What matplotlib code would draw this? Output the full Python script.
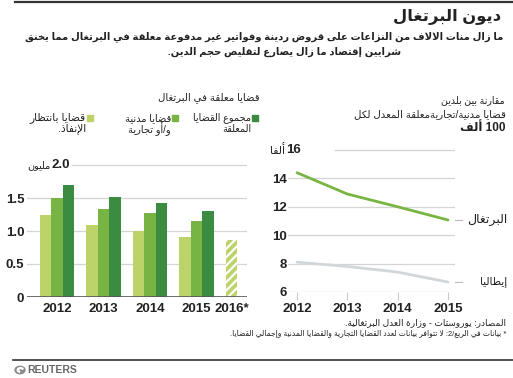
import re
import matplotlib

matplotlib.use("Agg")
import matplotlib.pyplot as plt
from matplotlib.patches import Rectangle, Circle, Wedge

# --- minimal Arabic shaping + RTL ordering (no arabic_reshaper available) ---
RIGHT = {"آ": 0xFE81, "أ": 0xFE83, "ؤ": 0xFE85, "إ": 0xFE87, "ا": 0xFE8D, "ة": 0xFE93,
         "د": 0xFEA9, "ذ": 0xFEAB, "ر": 0xFEAD, "ز": 0xFEAF, "و": 0xFEED, "ى": 0xFEEF}
DUAL = {"ئ": 0xFE89, "ب": 0xFE8F, "ت": 0xFE95, "ث": 0xFE99, "ج": 0xFE9D, "ح": 0xFEA1,
        "خ": 0xFEA5, "س": 0xFEB1, "ش": 0xFEB5, "ص": 0xFEB9, "ض": 0xFEBD, "ط": 0xFEC1,
        "ظ": 0xFEC5, "ع": 0xFEC9, "غ": 0xFECD, "ف": 0xFED1, "ق": 0xFED5, "ك": 0xFED9,
        "ل": 0xFEDD, "م": 0xFEE1, "ن": 0xFEE5, "ه": 0xFEE9, "ي": 0xFEF1}
LAM_ALEF = {"آ": 0xFEF5, "أ": 0xFEF7, "إ": 0xFEF9, "ا": 0xFEFB}


def ar(s):
    res = []
    i = 0
    n = len(s)
    while i < n:
        c = s[i]
        prev = s[i - 1] if i > 0 else ""
        pj = prev in DUAL
        if c == "ل" and i + 1 < n and s[i + 1] in LAM_ALEF:
            res.append(chr(LAM_ALEF[s[i + 1]] + (1 if pj else 0)))
            i += 2
            continue
        nxt = s[i + 1] if i + 1 < n else ""
        nj = nxt in DUAL or nxt in RIGHT
        if c in DUAL:
            f = 3 if (pj and nj) else 1 if pj else 2 if nj else 0
            res.append(chr(DUAL[c] + f))
        elif c in RIGHT:
            res.append(chr(RIGHT[c] + (1 if pj else 0)))
        else:
            res.append(c)
        i += 1
    vis = "".join(res)[::-1]
    return re.sub(r"[0-9]+(?:\.[0-9]+)?", lambda m: m.group()[::-1], vis)


plt.rcParams["font.family"] = ["Liberation Sans", "DejaVu Sans"]
plt.rcParams["hatch.linewidth"] = 1.6

# --- data ---
bar_years = ["2012", "2013", "2014", "2015", "2016*"]
enforcement = [1.24, 1.09, 1.00, 0.91, 0.86]
civil_commercial = [1.50, 1.34, 1.27, 1.15]
total_pending = [1.70, 1.52, 1.43, 1.30]

line_years = [2012, 2013, 2014, 2015]
portugal = [14.4, 12.9, 12.0, 11.07]
italy = [8.1, 7.8, 7.4, 6.7]

LIGHT = "#bcd36a"
MID = "#78b443"
DARK = "#3b8c41"
GRID = "#d4d4d4"
TXT = "#222222"

W, H = 513, 378
fig = plt.figure(figsize=(W / 100, H / 100), dpi=100)
renderer = fig.canvas.get_renderer()


def ftxt(x, y, s, size, weight="normal", ha="right", color=TXT):
    return fig.text(x / W, 1 - y / H, s, fontsize=size, fontweight=weight, ha=ha, va="center", color=color)


def fit(t, width):
    # scale the font so the text spans the width measured on the reference
    w = t.get_window_extent(renderer).width
    t.set_fontsize(t.get_fontsize() * width / w)
    return t.get_fontsize()


def faxes(x0, x1, ytop, ybot):
    return fig.add_axes([x0 / W, 1 - ybot / H, (x1 - x0) / W, (ybot - ytop) / H])


# top rule
fig.add_artist(plt.Line2D([15 / W, 1], [1 - 1.5 / H, 1 - 1.5 / H], color="#333333", lw=1.6))

fit(ftxt(501, 17, ar("ديون البرتغال"), 15, "bold"), 108)
sz = fit(ftxt(503, 37, ar("ما زال منات الالاف من النزاعات على قروض ردينة وفواتير غير مدفوعة معلقة في البرتغال مما يخنق"), 8, "bold"), 476)
ftxt(401, 52, ar("شرايين إقتصاد ما زال يصارع لتقليص حجم الدين."), sz, "bold")

# --- bar panel ---
fit(ftxt(260, 98, ar("قضايا معلقة في البرتغال"), 8), 102)
legend = [(255, DARK, "مجموع القضايا", "المعلقة", 58),
          (175, MID, "قضايا مدنية", "و/أو تجارية", 46),
          (90, LIGHT, "قضايا بانتظار", "الإنفاذ.", 56)]
for sx, col, l1, l2, wd in legend:
    fig.add_artist(Rectangle(((sx - 3) / W, 1 - 121 / H), 6 / W, 6 / H, color=col, transform=fig.transFigure))
    s1 = fit(ftxt(sx - 4, 118, ar(l1), 7.5), wd)
    ftxt(sx - 4, 129, ar(l2), s1)

ax = faxes(27, 247, 158.4, 297)
bw = 0.247
xs = list(range(len(bar_years)))
ax.bar([x - bw for x in xs[:4]], enforcement[:4], width=bw, color=LIGHT, zorder=2)
ax.bar(xs[:4], civil_commercial, width=bw, color=MID, zorder=2)
ax.bar([x + bw for x in xs[:4]], total_pending, width=bw, color=DARK, zorder=2)
ax.bar([xs[4] - bw], [enforcement[4]], width=bw, color=LIGHT, hatch="////", edgecolor="white", lw=0, zorder=2)
ax.set_xlim(-0.645, 4.086)
ax.set_ylim(0, 2.1)
for v in [0.5, 1.0, 1.5]:
    ax.axhline(v, color=GRID, lw=0.9, zorder=1)
ax.axhline(2.0, xmin=0.205, color=GRID, lw=0.9, zorder=1)
ax.axhline(0, color="#555555", lw=1.2, zorder=3)
ax.set_yticks([0, 0.5, 1.0, 1.5])
ax.set_yticklabels(["0", "0.5", "1.0", "1.5"])
ax.set_xticks([0, 1, 2, 3, 4 - bw])
ax.set_xticklabels(bar_years)
ax.tick_params(length=0, labelsize=9.5, colors=TXT, pad=4)
ax.tick_params(axis="y", pad=2)
for lab in ax.get_xticklabels() + ax.get_yticklabels():
    lab.set_fontweight("bold")
for s in ax.spines.values():
    s.set_visible(False)
ax.text(0.28, 2.0, "2.0", fontsize=9.5, fontweight="bold", ha="right", va="center", color=TXT)
fit(ax.text(-0.13, 2.0, ar("مليون"), fontsize=7.5, ha="right", va="center", color=TXT), 23)

# --- line panel ---
s1 = fit(ftxt(505, 100, ar("مقارنة بين بلدين"), 8), 64)
fit(ftxt(506, 114, ar("قضايا مدنية/تجاريةمعلقة المعدل لكل"), s1), 151)
ftxt(506, 128, ar("100 ألف"), 8.5, "bold")

lx = faxes(288, 455, 144.3, 292)
lx.plot(line_years, portugal, color="#79b543", lw=2, solid_capstyle="round", zorder=3)
lx.plot(line_years, italy, color="#d3d6d8", lw=2, solid_capstyle="round", zorder=3)
lx.set_xlim(2011.821, 2015.139)
lx.set_ylim(6, 16.4)
for v in [6, 8, 10, 12, 14]:
    lx.axhline(v, color=GRID, lw=0.9, zorder=1)
lx.axhline(16, xmin=0.281, color=GRID, lw=0.9, zorder=1)
lx.set_yticks([6, 8, 10, 12, 14])
lx.set_xticks(line_years)
lx.tick_params(axis="x", length=6, color="#cccccc", width=0.8, labelsize=9.5, colors=TXT, pad=2)
lx.tick_params(axis="y", length=0, labelsize=9.5, colors=TXT, pad=1)
lx.tick_params(axis="x", labelcolor=TXT)
for lab in lx.get_xticklabels() + lx.get_yticklabels():
    lab.set_fontweight("bold")
for s in lx.spines.values():
    s.set_visible(False)
lx.text(2012.08, 16, "16", fontsize=9.5, fontweight="bold", ha="right", va="center", color=TXT)
fit(lx.text(2011.77, 16, ar("ألفا"), fontsize=6.5, ha="right", va="center", color=TXT), 15)

x_end = line_years[-1]
for vals, name, wd in [(portugal, "البرتغال", 40), (italy, "إيطاليا", 27)]:
    lx.plot([x_end + 0.14, x_end + 0.28], [vals[-1], vals[-1]], color="#bbbbbb", lw=0.8, clip_on=False)
    t = lx.text(x_end + 59 / 50.33, vals[-1], ar(name), fontsize=7.5, ha="right", va="center",
                color=TXT, clip_on=False)
    fit(t, wd)

# --- footer ---
fs = fit(ftxt(506, 323, ar("المصادر: يوروستات - وزارة العدل البرتغالية."), 6), 162)
fit(ftxt(506, 334, ar("* بيانات في الربع/2: لا تتوافر بيانات لعدد القضايا التجارية والقضايا المدنية وإجمالي القضايا."), fs), 275)
fig.add_artist(plt.Line2D([13 / W, 1], [1 - 360 / H, 1 - 360 / H], color="#333333", lw=1.2))
fig.add_artist(Circle((20 / W, 1 - 370 / H), 5 / W, color="#8a8a8a", transform=fig.transFigure))
fig.add_artist(Wedge((20.5 / W, 1 - 370 / H), 3.2 / W, 30, 250, width=1.2 / W, color="white", transform=fig.transFigure))
ftxt(27, 370, "REUTERS", 7.5, "bold", ha="left", color="#666666")

fig.savefig("out.png", dpi=100)
